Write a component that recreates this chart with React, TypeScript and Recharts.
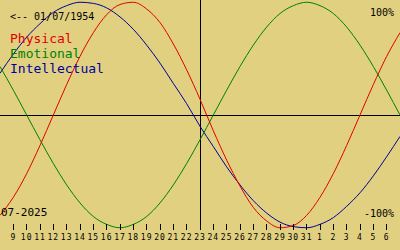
import { LineChart, Line, XAxis, YAxis, ReferenceLine } from 'recharts';

// days shown, one column per day (8 Jul .. 7 Aug), edges run off the plot
const DAYS = [8, 9, 10, 11, 12, 13, 14, 15, 16, 17, 18, 19, 20, 21, 22, 23, 24, 25, 26, 27, 28, 29, 30, 31, 1, 2, 3, 4, 5, 6, 7];
const TICK_DAYS = [9, 10, 11, 12, 13, 14, 15, 16, 17, 18, 19, 20, 21, 22, 23, 24, 25, 26, 27, 28, 29, 30, 31, 1, 2, 3, 4, 5, 6];
const TODAY = 23;

const PHYSICAL = [-0.89, -0.73, -0.52, -0.27, 0, 0.27, 0.52, 0.73, 0.89, 0.98, 1.0, 0.94, 0.82, 0.63, 0.4, 0.14, -0.14, -0.4, -0.63, -0.82, -0.94, -1.0, -0.98, -0.89, -0.73, -0.52, -0.27, 0, 0.27, 0.52, 0.73];
const EMOTIONAL = [0.43, 0.22, 0, -0.22, -0.43, -0.62, -0.78, -0.9, -0.97, -1.0, -0.97, -0.9, -0.78, -0.62, -0.43, -0.22, 0, 0.22, 0.43, 0.62, 0.78, 0.9, 0.97, 1.0, 0.97, 0.9, 0.78, 0.62, 0.43, 0.22, 0];
const INTELLECTUAL = [0.37, 0.54, 0.69, 0.81, 0.91, 0.97, 1.0, 0.99, 0.95, 0.87, 0.76, 0.62, 0.46, 0.28, 0.1, -0.1, -0.28, -0.46, -0.62, -0.76, -0.87, -0.95, -0.99, -1.0, -0.97, -0.91, -0.81, -0.69, -0.54, -0.37, -0.19];

const BG = '#e0d080';
const RED = '#e00000';
const GREEN = '#008000';
const BLUE = '#0000a0';
const MONO = '"DejaVu Sans Mono", monospace';

const data = DAYS.map((d, i) => ({
  x: i - 1,
  day: d,
  physical: PHYSICAL[i],
  emotional: EMOTIONAL[i],
  intellectual: INTELLECTUAL[i],
}));
const ticks = TICK_DAYS.map((_, i) => i);

function DayTick({ x, y, payload }: any) {
  return (
    <g>
      <line x1={x} x2={x} y1={y - 6} y2={y} stroke="#000" shapeRendering="crispEdges" />
      <text x={x} y={y + 9.5} textAnchor="middle" fontSize={8} letterSpacing={1} fontFamily={MONO} fill="#000">
        {TICK_DAYS[payload.value]}
      </text>
    </g>
  );
}

export default function App() {
  return (
    <div style={{ position: 'absolute', top: 0, left: 0, width: 400, height: 250, background: BG }}>
      <LineChart width={400} height={250} data={data} margin={{ top: 0, right: 0, left: 0, bottom: 0 }}>
        <XAxis
          dataKey="x"
          type="number"
          domain={[-1, 29]}
          ticks={ticks}
          interval={0}
          height={20}
          axisLine={false}
          tickLine={false}
          tickSize={0}
          tickMargin={0}
          tick={(p: any) => <DayTick {...p} />}
          allowDataOverflow
        />
        <YAxis hide domain={[-1.02, 1.02]} />
        <ReferenceLine y={0} stroke="#000" shapeRendering="crispEdges" />
        <ReferenceLine x={TICK_DAYS.indexOf(TODAY)} stroke="#000" shapeRendering="crispEdges" />
        <Line type="monotone" dataKey="intellectual" stroke={BLUE} strokeWidth={1} dot={false} activeDot={false} isAnimationActive={false} />
        <Line type="monotone" dataKey="emotional" stroke={GREEN} strokeWidth={1} dot={false} activeDot={false} isAnimationActive={false} />
        <Line type="monotone" dataKey="physical" stroke={RED} strokeWidth={1} dot={false} activeDot={false} isAnimationActive={false} />
      </LineChart>
      <svg width={400} height={250} style={{ position: 'absolute', top: 0, left: 0, pointerEvents: 'none' }}>
        <text x={10} y={20} fontSize={10} fontFamily={MONO} fill="#000">{'<-- 01/07/1954'}</text>
        <text x={10} y={43} fontSize={13} fontFamily={MONO} fill={RED}>Physical</text>
        <text x={10} y={58} fontSize={13} fontFamily={MONO} fill={GREEN}>Emotional</text>
        <text x={10} y={73} fontSize={13} fontFamily={MONO} fill={BLUE}>Intellectual</text>
        <text x={394} y={16} textAnchor="end" fontSize={10} fontFamily={MONO} fill="#000">100%</text>
        <text x={394} y={217} textAnchor="end" fontSize={10} fontFamily={MONO} fill="#000">-100%</text>
        <text x={1} y={216} fontSize={11} fontFamily={MONO} fill="#000">07-2025</text>
      </svg>
    </div>
  );
}
